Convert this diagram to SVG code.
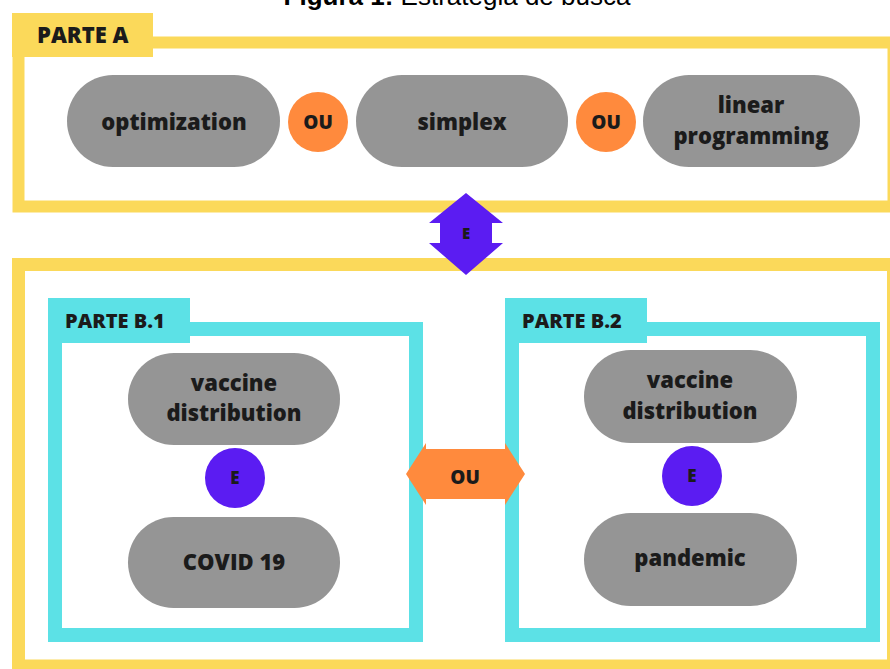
<svg xmlns="http://www.w3.org/2000/svg" width="890" height="669" viewBox="0 0 890 669">
<defs>
<style>
.yel{fill:none;stroke:#FBD95A}
.yelf{fill:#FBD95A}
.cy{fill:none;stroke:#5CE1E6;stroke-width:14}
.cyf{fill:#5CE1E6}
.pill{fill:#959595}
.ou{fill:#FF8A3D}
.pur{fill:#5B1CF2}
.t{font-family:"Open Sans","Noto Sans","DejaVu Sans",sans-serif;font-weight:800;fill:#1b1b1b;text-anchor:middle}
.lbl{font-family:"Open Sans","Noto Sans","DejaVu Sans",sans-serif;font-weight:800;fill:#1b1b1b}
.title{font-family:"Liberation Sans",Arial,sans-serif;font-size:26px;fill:#000;text-anchor:middle}
</style>
</defs>
<rect x="0" y="0" width="890" height="669" fill="#fff"/>
<text class="title" x="457" y="5"><tspan font-weight="bold">Figura 1:</tspan> Estratégia de busca</text>

<g id="parteA">
<rect class="yel" x="18.5" y="42.5" width="875" height="164" stroke-width="12"/>
<rect class="yelf" x="12" y="13" width="141" height="44"/>
<text class="lbl" x="37" y="43" font-size="22">PARTE A</text>
</g>

<g id="optimization">
<rect class="pill" x="67" y="75" width="213" height="92" rx="46"/>
<text class="t" x="174" y="130" font-size="22">optimization</text>
</g>
<g id="ou1">
<circle class="ou" cx="318" cy="122" r="30"/>
<text class="t" x="318" y="129" font-size="19">OU</text>
</g>
<g id="simplex">
<rect class="pill" x="356" y="75" width="212" height="92" rx="46"/>
<text class="t" x="462" y="130" font-size="22">simplex</text>
</g>
<g id="ou2">
<circle class="ou" cx="606" cy="122" r="30"/>
<text class="t" x="606" y="129" font-size="19">OU</text>
</g>
<g id="linear">
<rect class="pill" x="643" y="75" width="217" height="92" rx="46"/>
<text class="t" x="751" y="113" font-size="22">linear</text>
<text class="t" x="751" y="144" font-size="22">programming</text>
</g>

<g id="parteB">
<rect class="yel" x="18.5" y="264.5" width="875" height="401.5" stroke-width="13"/>
</g>

<g id="parteB1">
<rect class="cy" x="55" y="329" width="361" height="306"/>
<rect class="cyf" x="48" y="298" width="142" height="45"/>
<text class="lbl" x="65" y="328" font-size="20">PARTE B.1</text>
</g>
<g id="vaccine1">
<rect class="pill" x="128" y="353" width="212" height="92" rx="46"/>
<text class="t" x="234" y="391" font-size="22">vaccine</text>
<text class="t" x="234" y="421" font-size="22">distribution</text>
</g>
<g id="e1">
<circle class="pur" cx="235" cy="478" r="30"/>
<text class="t" x="235" y="484" font-size="17">E</text>
</g>
<g id="covid">
<rect class="pill" x="128" y="517" width="212" height="91" rx="45.5"/>
<text class="t" x="234" y="570" font-size="22">COVID 19</text>
</g>

<g id="parteB2">
<rect class="cy" x="512" y="329" width="361" height="306"/>
<rect class="cyf" x="505" y="298" width="142" height="45"/>
<text class="lbl" x="522" y="328" font-size="20">PARTE B.2</text>
</g>
<g id="vaccine2">
<rect class="pill" x="584" y="350" width="213" height="93" rx="46.5"/>
<text class="t" x="690" y="388" font-size="22">vaccine</text>
<text class="t" x="690" y="419" font-size="22">distribution</text>
</g>
<g id="e2">
<circle class="pur" cx="692" cy="476" r="30"/>
<text class="t" x="692" y="482" font-size="17">E</text>
</g>
<g id="pandemic">
<rect class="pill" x="584" y="513" width="213" height="93" rx="46.5"/>
<text class="t" x="690" y="566" font-size="22">pandemic</text>
</g>

<g id="connectors">
<g id="conAB">
<polygon class="pur" points="466,193 503,223 492,223 492,243 503,243 466,275 429,243 440,243 440,223 429,223"/>
<text class="t" x="466" y="239" font-size="15">E</text>
</g>
<g id="conB1B2">
<polygon class="ou" points="406,474 426,443 426,449 505,449 505,443 525,474 505,505 505,499 426,499 426,505"/>
<text class="t" x="465" y="484" font-size="19">OU</text>
</g>
</g>
</svg>
